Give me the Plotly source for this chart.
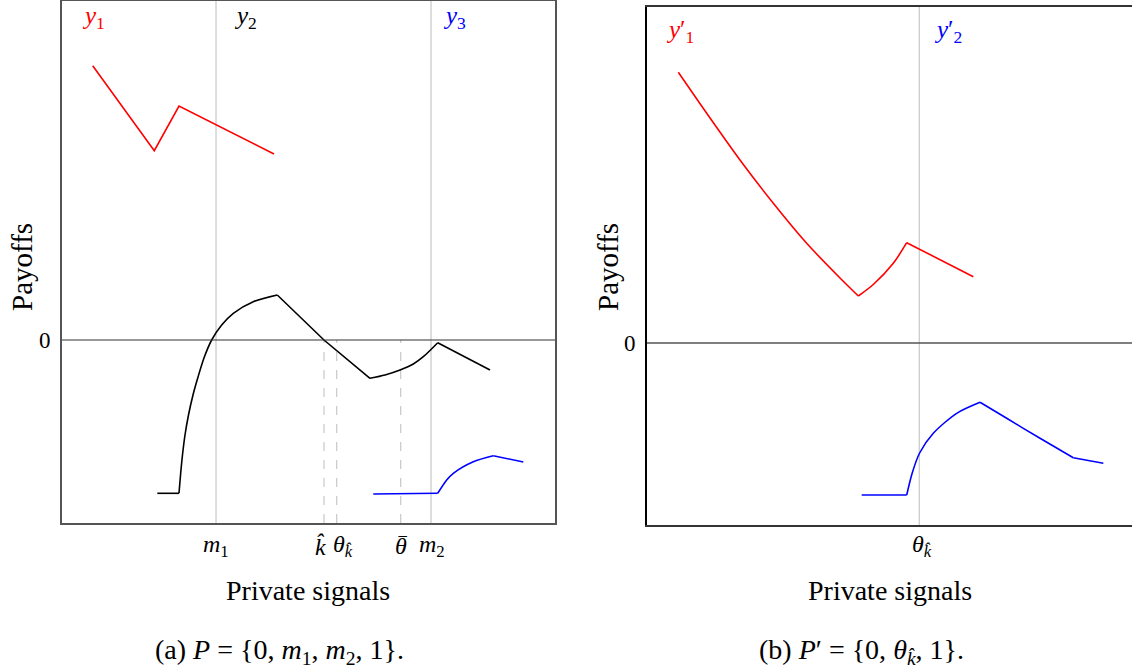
import plotly.graph_objects as go

# ---------------- data (panel a) ----------------
# signals in [0,1], payoffs in arbitrary units (0 = zero payoff)
# y1 (red): piecewise linear
y1_x = [0.0623, 0.1872, 0.2373, 0.4300]
y1_y = [2.743, 1.893, 2.340, 1.860]

# y2 (black): flat, concave rise, linear fall, convex rise, linear fall
y2_flat_x = [0.1933, 0.2373]
y2_flat_y = [-1.533, -1.533]
y2_rise_x = [0.2373, 0.2404, 0.2444, 0.2495, 0.2566, 0.2657, 0.2759, 0.2880, 0.3036,
             0.3239, 0.3475, 0.3880, 0.4367]
y2_rise_y = [-1.533, -1.350, -1.150, -0.950, -0.750, -0.550, -0.370, -0.180, 0.000,
             0.150, 0.267, 0.383, 0.450]
y2_fall_x = [0.4367, 0.5314, 0.6247]
y2_fall_y = [0.450, 0.000, -0.383]
y2_dip_x = [0.6247, 0.6552, 0.6856, 0.7126, 0.7329, 0.7621]
y2_dip_y = [-0.383, -0.350, -0.300, -0.240, -0.167, -0.027]
y2_end_x = [0.7621, 0.8682]
y2_end_y = [-0.027, -0.300]

# y3 (blue): flat, concave rise, linear fall
y3_flat_x = [0.6314, 0.7621]
y3_flat_y = [-1.540, -1.533]
y3_rise_x = [0.7621, 0.7803, 0.7937, 0.8343, 0.8748]
y3_rise_y = [-1.533, -1.400, -1.333, -1.217, -1.157]
y3_end_x = [0.8748, 0.9357]
y3_end_y = [-1.157, -1.220]

m1, m2 = 0.3124, 0.7485
k_hat, theta_khat, theta_bar = 0.5314, 0.5572, 0.6870

# ---------------- data (panel b) ----------------
y1p_fall_x = [0.0635, 0.1211, 0.1886, 0.2562, 0.3239, 0.3915, 0.4286]
y1p_fall_y = [2.707, 2.297, 1.830, 1.397, 0.997, 0.650, 0.470]
y1p_rise_x = [0.4286, 0.4590, 0.4996, 0.5268]
y1p_rise_y = [0.470, 0.585, 0.797, 1.003]
y1p_end_x = [0.5268, 0.6619]
y1p_end_y = [1.003, 0.663]

y2p_flat_x = [0.4355, 0.5268]
y2p_flat_y = [-1.520, -1.520]
y2p_rise_x = [0.5268, 0.5380, 0.5530, 0.5807, 0.6282, 0.6755]
y2p_rise_y = [-1.520, -1.300, -1.100, -0.903, -0.703, -0.593]
y2p_fall_x = [0.6755, 0.7296, 0.7972, 0.8647]
y2p_fall_y = [-0.593, -0.753, -0.953, -1.147]
y2p_end_x = [0.8647, 0.9256]
y2p_end_y = [-1.147, -1.203]

theta_khat_b = 0.5523

# ---------------- figure ----------------
W, H = 1132, 668
FONT = "Liberation Serif"
RED, BLUE, BLACK = "#ff0000", "#0000ff", "#000000"
LGRAY = "#c8c8c8"

fig = go.Figure()

def line(x, y, color, xa, ya, curved=False):
    fig.add_trace(go.Scatter(x=x, y=y, mode="lines", xaxis=xa, yaxis=ya,
                             line=dict(color=color, width=1.6,
                                       shape="spline" if curved else "linear",
                                       smoothing=0.8),
                             showlegend=False, hoverinfo="skip"))

line(y1_x, y1_y, RED, "x", "y")
line(y2_flat_x, y2_flat_y, BLACK, "x", "y")
line(y2_rise_x, y2_rise_y, BLACK, "x", "y", curved=True)
line(y2_fall_x, y2_fall_y, BLACK, "x", "y")
line(y2_dip_x, y2_dip_y, BLACK, "x", "y", curved=True)
line(y2_end_x, y2_end_y, BLACK, "x", "y")
line(y3_flat_x, y3_flat_y, BLUE, "x", "y")
line(y3_rise_x, y3_rise_y, BLUE, "x", "y", curved=True)
line(y3_end_x, y3_end_y, BLUE, "x", "y")

line(y1p_fall_x, y1p_fall_y, RED, "x2", "y2", curved=True)
line(y1p_rise_x, y1p_rise_y, RED, "x2", "y2", curved=True)
line(y1p_end_x, y1p_end_y, RED, "x2", "y2")
line(y2p_flat_x, y2p_flat_y, BLUE, "x2", "y2")
line(y2p_rise_x, y2p_rise_y, BLUE, "x2", "y2", curved=True)
line(y2p_fall_x, y2p_fall_y, BLUE, "x2", "y2", curved=True)
line(y2p_end_x, y2p_end_y, BLUE, "x2", "y2")

# axis geometry (pixels -> paper)
def px(x):
    return x / W

def py(y):
    return 1 - y / H

yr_a = [-1.83, 3.39]
yr_b = [-1.82, 3.36]
xr_b = [0, (1132 - 647) / 493]

common = dict(showgrid=False, zeroline=False, showticklabels=False, ticks="")
fig.update_layout(
    width=W, height=H, margin=dict(l=0, r=0, t=0, b=0),
    paper_bgcolor="white", plot_bgcolor="white",
    xaxis=dict(domain=[px(62), px(555)], range=[0, 1],
               showline=True, mirror=True, linecolor="#555", linewidth=1.5, **common),
    yaxis=dict(domain=[py(523), py(1)], range=yr_a,
               showline=True, mirror=True, linecolor="#555", linewidth=1.5, **common),
    xaxis2=dict(domain=[px(647), 1.0], range=xr_b, anchor="y2",
                showline=True, mirror=True, linecolor="#333", linewidth=1.5, **common),
    yaxis2=dict(domain=[py(525), py(7)], range=yr_b, anchor="x2",
                showline=True, mirror=False, linecolor="#000", linewidth=1.5, **common),
)

shapes = []
for xv in (m1, m2):
    shapes.append(dict(type="line", xref="x", yref="y domain", x0=xv, x1=xv, y0=0, y1=1,
                       line=dict(color=LGRAY, width=1.2), layer="below"))
for xv in (k_hat, theta_khat, theta_bar):
    shapes.append(dict(type="line", xref="x", yref="y", x0=xv, x1=xv, y0=yr_a[0], y1=0,
                       line=dict(color=LGRAY, width=1.2, dash="dash"), layer="below"))
shapes.append(dict(type="line", xref="x2", yref="y2 domain", x0=theta_khat_b, x1=theta_khat_b,
                   y0=0, y1=1, line=dict(color=LGRAY, width=1.2), layer="below"))
shapes.append(dict(type="line", xref="x domain", yref="y", x0=0, x1=1, y0=0, y1=0,
                   line=dict(color="#333", width=1.2)))
shapes.append(dict(type="line", xref="x2 domain", yref="y2", x0=0, x1=1, y0=0, y1=0,
                   line=dict(color="#555", width=1.5)))
fig.update_layout(shapes=shapes)

ann = []
def A(text, x, y, xref, yref, size=24, color=BLACK, **kw):
    d = dict(text=text, x=x, y=y, xref=xref, yref=yref, showarrow=False,
             xanchor="center", yanchor="middle",
             font=dict(family=FONT, size=size, color=color))
    d.update(kw)
    ann.append(d)

# series labels
A("<i>y</i><sub>1</sub>", 0.063, 3.22, "x", "y", color=RED, size=25)
A("<i>y</i><sub>2</sub>", 0.373, 3.22, "x", "y", color=BLACK, size=25)
A("<i>y</i><sub>3</sub>", 0.797, 3.22, "x", "y", color=BLUE, size=25)
A("<i>y</i>′<sub>1</sub>", 0.067, 3.12, "x2", "y2", color=RED, size=25)
A("<i>y</i>′<sub>2</sub>", 0.611, 3.12, "x2", "y2", color=BLUE, size=25)

# x tick labels
tick_y = py(546)
A("<i>m</i><sub>1</sub>", m1, tick_y, "x", "paper")
A("<i>k\u0302</i>", k_hat - 0.007, tick_y, "x", "paper")
A("<i>θ</i><sub><i>k\u0302</i></sub>", theta_khat + 0.012, tick_y, "x", "paper")
A("<i>θ</i>", theta_bar, tick_y, "x", "paper")
A("\u203e", theta_bar + 0.004, py(545), "x", "paper", size=22)
A("<i>m</i><sub>2</sub>", m2 + 0.003, tick_y, "x", "paper")
A("<i>θ</i><sub><i>k\u0302</i></sub>", theta_khat_b + 0.006, tick_y, "x2", "paper")

# zero labels
A("0", px(45), 0, "paper", "y", size=23)
A("0", px(630), 0, "paper", "y2", size=23)

# axis titles
A("Payoffs", px(22), py(267), "paper", "paper", size=29, textangle=-90)
A("Payoffs", px(608), py(267), "paper", "paper", size=29, textangle=-90)
A("Private signals", px(308), py(590), "paper", "paper", size=28)
A("Private signals", px(890), py(590), "paper", "paper", size=28)

# captions
A("(a) <i>P</i> = {0, <i>m</i><sub>1</sub>, <i>m</i><sub>2</sub>, 1}.", px(279), py(651),
  "paper", "paper", size=28)
A("(b) <i>P</i>′ = {0, <i>θ</i><sub><i>k\u0302</i></sub>, 1}.", px(861), py(651),
  "paper", "paper", size=28)

fig.update_layout(annotations=ann)
fig.write_html("out.html", post_script="document.body.style.margin='0';",
               config={"displayModeBar": False})
